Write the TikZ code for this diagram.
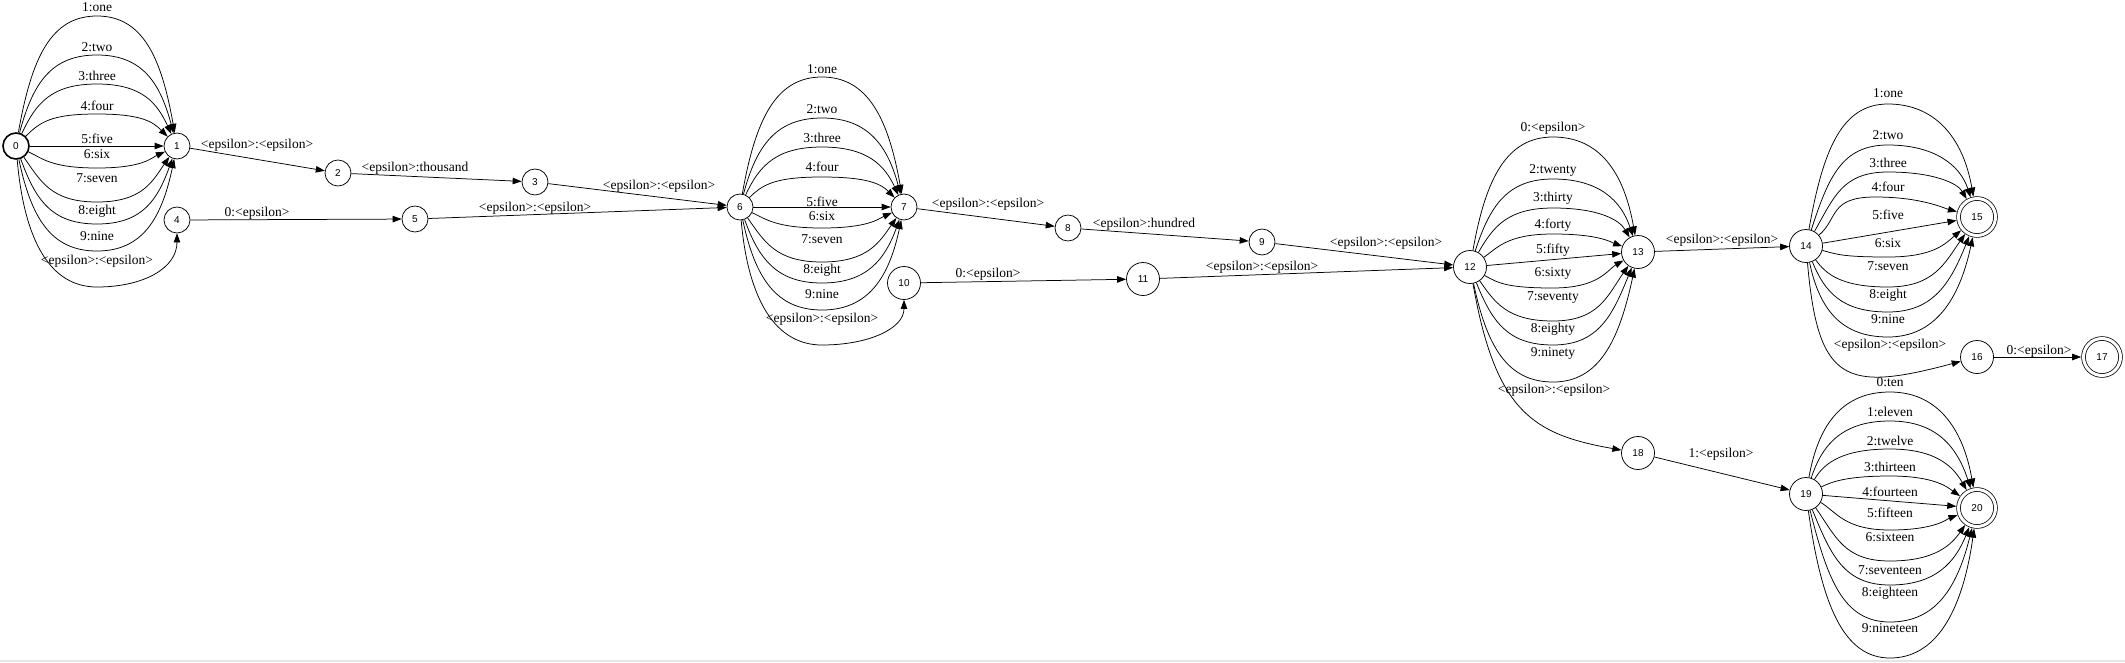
\documentclass[tikz,border=0pt]{standalone}
\usepackage{fontspec}
\setmainfont{Liberation Serif}
\newfontfamily\nodefont{Liberation Sans}
\usetikzlibrary{arrows.meta}
\newcommand{\apd}{46}
% #1 apex name, #2 from, #3 to, #4 apex x, #5 apex y (downwards), #6 out, #7 in, #8 start dist, #9 end dist
\newcommand{\fsarc}[9]{%
  \coordinate (#1) at (#4,-#5);
  \draw[e] (#2) to[out=#6,in=180,out distance=#8,in distance=\apd] (#1)
    to[out=0,in=#7,out distance=\apd,in distance=#9] (#3);}
\begin{document}
\begin{tikzpicture}[x=1pt,y=1pt,
  st/.style={circle,draw,line width=0.75pt,inner sep=0pt,minimum size=26pt,font=\nodefont\fontsize{10}{12}\selectfont},
  stw/.style={st,minimum size=33pt},
  fin/.style={st,minimum size=37pt,double,double distance=3pt,outer sep=2.3pt},
  e/.style={line width=0.75pt,-{Triangle[length=9pt,width=6.5pt]}},
  lbl/.style={font=\fontsize{13.5}{15}\selectfont,inner sep=0pt}]
\useasboundingbox (0,0) rectangle (2125,-662);
\draw[gray!20,line width=1.5pt] (0,-661) -- (2125,-661);
% states
\node[st,line width=1.6pt] (n0) at (16,-146) {0};
\node[st] (n1) at (177,-146) {1};
\node[st] (n2) at (338,-173) {2};
\node[st] (n3) at (535,-182) {3};
\node[st] (n4) at (177,-220) {4};
\node[st] (n5) at (415,-219) {5};
\node[st] (n6) at (740,-207) {6};
\node[st] (n7) at (904,-207) {7};
\node[st] (n8) at (1068,-228) {8};
\node[st] (n9) at (1262,-242) {9};
\node[stw] (n10) at (904,-283) {10};
\node[stw] (n11) at (1143,-279) {11};
\node[stw] (n12) at (1470,-267) {12};
\node[stw] (n13) at (1638,-252) {13};
\node[stw] (n14) at (1806,-246) {14};
\node[fin] (n15) at (1977,-217) {15};
\node[stw] (n16) at (1977,-357) {16};
\node[fin] (n17) at (2102,-357) {17};
\node[stw] (n18) at (1638,-453) {18};
\node[stw] (n19) at (1806,-494) {19};
\node[fin] (n20) at (1977,-508) {20};
% 0 -> 1
\fsarc{c0a}{n0}{n1}{97}{16}{80}{100}{76}{76}
\fsarc{c0b}{n0}{n1}{97}{55}{75}{105}{51}{51}
\fsarc{c0c}{n0}{n1}{97}{84}{65}{115}{33}{33}
\fsarc{c0d}{n0}{n1}{97}{114}{45}{135}{20}{20}
\draw[e] (n0) -- (n1);
\fsarc{c0f}{n0}{n1}{97}{168}{-25}{-155}{15}{15}
\fsarc{c0g}{n0}{n1}{97}{202}{-55}{-125}{29}{29}
\fsarc{c0h}{n0}{n1}{97}{224}{-70}{-110}{43}{43}
\fsarc{c0i}{n0}{n1}{97}{251}{-78}{-102}{60}{60}
\fsarc{c0j}{n0}{n4}{97}{287}{-85}{-90}{83}{35}
\node[lbl] (l0a) at (97,-7) {1:one};
\node[lbl] (l0b) at (97,-47) {2:two};
\node[lbl] (l0c) at (97,-76) {3:three};
\node[lbl] (l0d) at (97,-106) {4:four};
\node[lbl] (l0e) at (97,-139) {5:five};
\node[lbl] (l0f) at (97,-154) {6:six};
\node[lbl] (l0g) at (97,-178) {7:seven};
\node[lbl] (l0h) at (97,-211) {8:eight};
\node[lbl] (l0i) at (97,-236) {9:nine};
\node[lbl] (l0j) at (97,-261) {<epsilon>:<epsilon>};
% chain
\draw[e] (n1) -- (n2);
\node[lbl] (l12) at (257,-145) {<epsilon>:<epsilon>};
\draw[e] (n4) -- (n5);
\node[lbl] (l45) at (257,-213) {0:<epsilon>};
\draw[e] (n2) -- (n3);
\node[lbl] (l23) at (415,-168) {<epsilon>:thousand};
\draw[e] (n3) -- (n6);
\node[lbl] (l36) at (659,-186) {<epsilon>:<epsilon>};
\draw[e] (n5) -- (n6);
\node[lbl] (l56) at (535,-208) {<epsilon>:<epsilon>};
% 6 -> 7
\fsarc{c6a}{n6}{n7}{822}{77}{80}{100}{76}{76}
\fsarc{c6b}{n6}{n7}{822}{118}{75}{105}{50}{50}
\fsarc{c6c}{n6}{n7}{822}{147}{65}{115}{32}{32}
\fsarc{c6d}{n6}{n7}{822}{177}{45}{135}{19}{19}
\draw[e] (n6) -- (n7);
\fsarc{c6f}{n6}{n7}{822}{228}{-25}{-155}{15}{15}
\fsarc{c6g}{n6}{n7}{822}{262}{-55}{-125}{29}{29}
\fsarc{c6h}{n6}{n7}{822}{283}{-70}{-110}{41}{41}
\fsarc{c6i}{n6}{n7}{822}{310}{-78}{-102}{59}{59}
\fsarc{c6j}{n6}{n10}{822}{345}{-85}{-90}{81}{29}
\node[lbl] (l6a) at (822,-69) {1:one};
\node[lbl] (l6b) at (822,-109) {2:two};
\node[lbl] (l6c) at (822,-138) {3:three};
\node[lbl] (l6d) at (822,-167) {4:four};
\node[lbl] (l6e) at (822,-202) {5:five};
\node[lbl] (l6f) at (822,-216) {6:six};
\node[lbl] (l6g) at (822,-239) {7:seven};
\node[lbl] (l6h) at (822,-270) {8:eight};
\node[lbl] (l6i) at (822,-294) {9:nine};
\node[lbl] (l6j) at (822,-319) {<epsilon>:<epsilon>};
\draw[e] (n7) -- (n8);
\node[lbl] (l78) at (988,-204) {<epsilon>:<epsilon>};
\draw[e] (n10) -- (n11);
\node[lbl] (l1011) at (988,-274) {0:<epsilon>};
\draw[e] (n8) -- (n9);
\node[lbl] (l89) at (1144,-224) {<epsilon>:hundred};
\draw[e] (n9) -- (n12);
\node[lbl] (l912) at (1386,-243) {<epsilon>:<epsilon>};
\draw[e] (n11) -- (n12);
\node[lbl] (l1112) at (1262,-267) {<epsilon>:<epsilon>};
% 12 -> 13
\fsarc{c12a}{n12}{n13}{1553}{137}{80}{100}{74}{65}
\fsarc{c12b}{n12}{n13}{1553}{179}{72}{108}{47}{37}
\fsarc{c12c}{n12}{n13}{1553}{208}{60}{120}{29}{20}
\fsarc{c12d}{n12}{n13}{1553}{234}{35}{160}{16}{12}
\draw[e] (n12) -- (n13);
\fsarc{c12f}{n12}{n13}{1553}{288}{-30}{-150}{15}{18}
\fsarc{c12g}{n12}{n13}{1553}{321}{-55}{-125}{26}{36}
\fsarc{c12h}{n12}{n13}{1553}{345}{-68}{-112}{41}{50}
\fsarc{c12i}{n12}{n13}{1553}{382}{-78}{-102}{64}{74}
\draw[e] (n12) to[out=-80,in=170,out distance=130,in distance=90] (n18);
\node[lbl] (l12a) at (1553,-128) {0:<epsilon>};
\node[lbl] (l12b) at (1553,-170) {2:twenty};
\node[lbl] (l12c) at (1553,-198) {3:thirty};
\node[lbl] (l12d) at (1553,-225) {4:forty};
\node[lbl] (l12e) at (1553,-250) {5:fifty};
\node[lbl] (l12f) at (1553,-273) {6:sixty};
\node[lbl] (l12g) at (1553,-298) {7:seventy};
\node[lbl] (l12h) at (1553,-329) {8:eighty};
\node[lbl] (l12i) at (1553,-353) {9:ninety};
\node[lbl] (l12j) at (1554,-390) {<epsilon>:<epsilon>};
\draw[e] (n13) -- (n14);
\node[lbl] (l1314) at (1722,-240) {<epsilon>:<epsilon>};
% 14 -> 15
\fsarc{c14a}{n14}{n15}{1888}{104}{80}{100}{82}{61}
\fsarc{c14b}{n14}{n15}{1888}{145}{72}{108}{56}{34}
\fsarc{c14c}{n14}{n15}{1888}{172}{60}{120}{39}{18}
\fsarc{c14d}{n14}{n15}{1875}{197}{40}{165}{25}{14}
\draw[e] (n14) -- (n15);
\fsarc{c14f}{n14}{n15}{1888}{257}{-15}{-140}{15}{20}
\fsarc{c14g}{n14}{n15}{1888}{287}{-55}{-125}{18}{35}
\fsarc{c14h}{n14}{n15}{1888}{312}{-68}{-112}{33}{49}
\fsarc{c14i}{n14}{n15}{1888}{337}{-78}{-102}{49}{65}
\draw[e] (n14) to[out=-85,in=195,distance=120] (n16);
\node[lbl] (l14a) at (1888,-93) {1:one};
\node[lbl] (l14b) at (1888,-135) {2:two};
\node[lbl] (l14c) at (1888,-163) {3:three};
\node[lbl] (l14d) at (1888,-187) {4:four};
\node[lbl] (l14e) at (1888,-215) {5:five};
\node[lbl] (l14f) at (1888,-243) {6:six};
\node[lbl] (l14g) at (1888,-266) {7:seven};
\node[lbl] (l14h) at (1888,-295) {8:eight};
\node[lbl] (l14i) at (1888,-319) {9:nine};
\node[lbl] (l14j) at (1890,-345) {<epsilon>:<epsilon>};
\draw[e] (n16) -- (n17);
\node[lbl] (l1617) at (2039,-351) {0:<epsilon>};
\draw[e] (n18) -- (n19);
\node[lbl] (l1819) at (1721,-454) {1:<epsilon>};
% 19 -> 20
\fsarc{c19a}{n19}{n20}{1890}{392}{80}{100}{56}{62}
\fsarc{c19b}{n19}{n20}{1890}{421}{72}{108}{37}{44}
\fsarc{c19c}{n19}{n20}{1890}{449}{60}{120}{20}{27}
\fsarc{c19d}{n19}{n20}{1890}{476}{25}{145}{10}{14}
\draw[e] (n19) -- (n20);
\fsarc{c19f}{n19}{n20}{1890}{530}{-30}{-160}{18}{10}
\fsarc{c19g}{n19}{n20}{1890}{561}{-55}{-125}{35}{23}
\fsarc{c19h}{n19}{n20}{1890}{585}{-68}{-112}{49}{37}
\fsarc{c19i}{n19}{n20}{1890}{622}{-76}{-104}{73}{61}
\fsarc{c19j}{n19}{n20}{1890}{658}{-82}{-98}{96}{84}
\node[lbl] (l19a) at (1890,-382) {0:ten};
\node[lbl] (l19b) at (1890,-412) {1:eleven};
\node[lbl] (l19c) at (1890,-441) {2:twelve};
\node[lbl] (l19d) at (1890,-467) {3:thirteen};
\node[lbl] (l19e) at (1890,-492) {4:fourteen};
\node[lbl] (l19f) at (1890,-513) {5:fifteen};
\node[lbl] (l19g) at (1890,-537) {6:sixteen};
\node[lbl] (l19h) at (1890,-570) {7:seventeen};
\node[lbl] (l19i) at (1890,-593) {8:eighteen};
\node[lbl] (l19j) at (1890,-628) {9:nineteen};
\end{tikzpicture}
\end{document}
